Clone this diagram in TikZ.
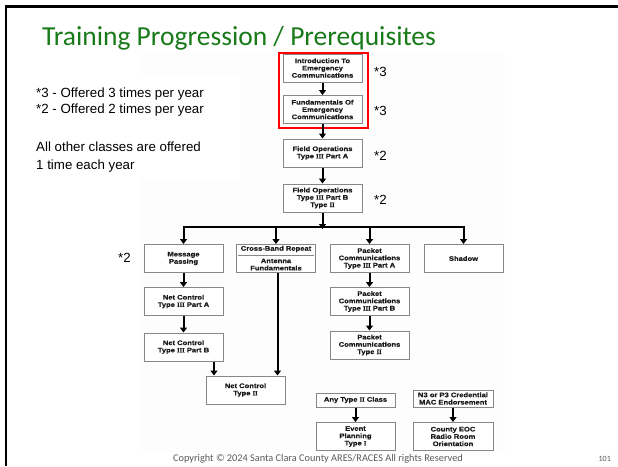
\documentclass[tikz,border=0pt]{standalone}
\usepackage{fontspec}
\setmainfont{Liberation Sans}
\newfontfamily\titlefont{Carlito}
\newfontfamily\boxfont[FakeStretch=1.15,BoldFeatures={FakeBold=0.4}]{Liberation Sans}
\newfontfamily\romfont[BoldFeatures={FakeBold=0.4}]{Liberation Serif}
\usetikzlibrary{arrows.meta}
\definecolor{titlegreen}{RGB}{24,122,24}
\definecolor{boxgray}{RGB}{135,135,135}
\definecolor{scangray}{RGB}{253,253,253}
\definecolor{footgray}{RGB}{90,90,90}
\newcommand{\rn}[1]{{\romfont\bfseries #1}}
\tikzset{
  box/.style={draw=boxgray, line width=1pt, fill=white, minimum width=79pt, minimum height=28pt,
    inner sep=0pt, align=center, font=\boxfont\bfseries\fontsize{6.6}{7.3}\selectfont, text=black!90},
  arr/.style={line width=2pt, -{Triangle[width=7pt,length=5pt]}},
  bus/.style={line width=2pt, line cap=rect},
  note/.style={font=\fontsize{13.3}{15}\selectfont, anchor=base west, inner sep=0pt},
}
\begin{document}
\begin{tikzpicture}[x=1pt,y=-1pt]
\useasboundingbox (0,0) rectangle (618,466);
\fill[white] (0,0) rectangle (618,466);
% scanned image background
\fill[scangray] (142,52) rectangle (505,453);
\fill[white] (30,75) rectangle (240,178);
% slide border
\draw[line width=2.5pt] (6,466) -- (6,6.5) -- (618,6.5);
% title
\node[anchor=base west, inner sep=0pt, text=titlegreen, font=\titlefont\fontsize{27.5}{32}\selectfont] (title) at (42,45.7) {Training Progression / Prerequisites};
% legend
\node[note] (l1) at (36,97) {*3 - Offered 3 times per year};
\node[note] (l2) at (36,113) {*2 - Offered 2 times per year};
\node[note] (l3) at (36,151.5) {All other classes are offered};
\node[note] (l4) at (36,169) {1 time each year};
% main chain
\node[box] (intro) at (322.5,68) {Introduction To\\Emergency\\Communications};
\node[box] (fund) at (322.5,109.5) {Fundamentals Of\\Emergency\\Communications};
\node[box] (foa) at (322.5,153) {Field Operations\\Type \rn{III} Part A};
\node[box] (fob) at (322.5,198) {Field Operations\\Type \rn{III} Part B\\Type \rn{II}};
\draw[red, line width=2pt] (278.5,52.5) rectangle (368,127.5);
\node[note, anchor=west] (s1) at (374,72) {*3};
\node[note, anchor=west] (s2) at (374,111) {*3};
\node[note, anchor=west] (s3) at (374,156) {*2};
\node[note, anchor=west] (s4) at (374,200) {*2};
% second row
\node[box] (mp) at (183.5,258.5) {Message\\Passing};
\node[box] (cb) at (276,258.5) {};
\node[box, draw=none, fill=none] (cbt) at (276,249) {Cross-Band Repeat};
\node[box, draw=none, fill=none] (cbb) at (276,264.5) {Antenna\\Fundamentals};
\draw[boxgray, line width=0.8pt] ([xshift=2pt]cb.west |- 0,255.5) -- ([xshift=-2pt]cb.east |- 0,255.5);
\node[box] (pa) at (369.5,258.5) {Packet\\Communications\\Type \rn{III} Part A};
\node[box] (sh) at (463.5,258.5) {Shadow};
\node[note, anchor=west] (s5) at (118,258) {*2};
% lower
\node[box] (nca) at (183.5,301.5) {Net Control\\Type \rn{III} Part A};
\node[box] (ncb) at (183.5,347) {Net Control\\Type \rn{III} Part B};
\node[box] (nc2) at (245.5,390) {Net Control\\Type \rn{II}};
\node[box] (pb) at (369.5,301.5) {Packet\\Communications\\Type \rn{III} Part B};
\node[box] (p2) at (369.5,345) {Packet\\Communications\\Type \rn{II}};
\node[box, minimum height=14pt] (any) at (355.5,400) {Any Type \rn{II} Class};
\node[box] (ep) at (355.5,436.5) {Event\\Planning\\Type \rn{I}};
\node[box, minimum width=80pt, minimum height=17pt] (n3) at (453,398.5) {N3 or P3 Credential\\MAC Endorsement};
\node[box, minimum width=80pt] (eoc) at (453,436.5) {County EOC\\Radio Room\\Orientation};
% connectors
\draw[arr] (intro) -- (fund);
\draw[arr] (fund) -- (foa);
\draw[arr] (foa) -- (fob);
\coordinate (bc) at (322.5,227);
\coordinate (bl) at (183.5,227);
\coordinate (br) at (463.5,227);
\draw[arr] (fob) -- ([yshift=-2pt]bc);
\draw[bus] (bl) -- (br);
\draw[arr] (bl) -- (mp);
\draw[arr] (cb.north |- bc) -- (cb);
\draw[arr] (pa.north |- bc) -- (pa);
\draw[arr] (br) -- (sh);
\draw[arr] (mp) -- (nca);
\draw[arr] (nca) -- (ncb);
\coordinate (nin) at ([xshift=8.5pt]nc2.north west);
\draw[arr] (ncb.south -| nin) -- (nin);
\coordinate (cin) at ([xshift=-8pt]nc2.north east);
\draw[arr] (cb.south -| cin) -- (cin);
\draw[arr] (pa) -- (pb);
\draw[arr] (pb) -- (p2);
\draw[arr] (any) -- (ep);
\draw[arr] (n3) -- (eoc);
% footer
\node[anchor=base, inner sep=0pt, text=footgray, font=\titlefont\fontsize{10.3}{12}\selectfont] (copy) at (318,461) {Copyright © 2024 Santa Clara County ARES/RACES All rights Reserved};
\node[anchor=base east, inner sep=0pt, text=footgray, font=\titlefont\fontsize{8}{10}\selectfont] (pg) at (611,461) {101};
\end{tikzpicture}
\end{document}
